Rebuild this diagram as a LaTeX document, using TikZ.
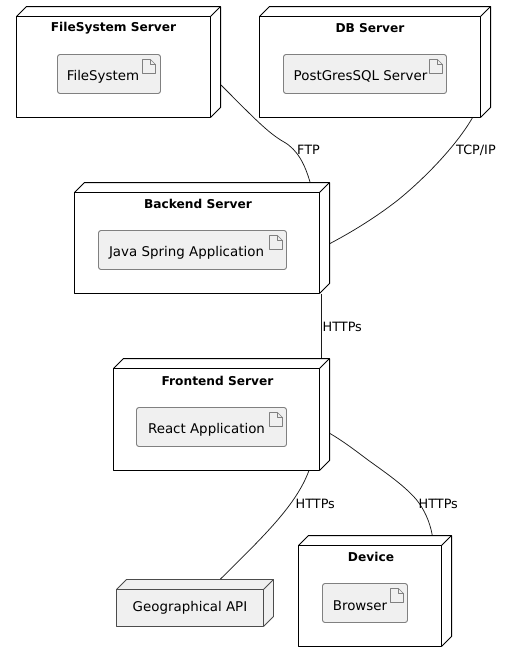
\documentclass[tikz,border=0pt]{standalone}
\usepackage{fontspec}
\setmainfont{DejaVu Sans}
\usetikzlibrary{calc}
\definecolor{boxfill}{HTML}{F0F0F0}
\definecolor{artline}{HTML}{808080}
\definecolor{wireline}{HTML}{1C1C1C}
\tikzset{
  x=1pt,y=-1pt,
  serverbox/.style={draw=black,line width=1pt,fill=white,inner sep=0pt,line join=round},
  apibox/.style={draw=black!70,line width=.9pt,fill=boxfill,inner sep=0pt,line join=round,font=\fontsize{13.4}{16}\selectfont},
  depth/.style={draw=black,line width=1pt,line join=round},
  apidepth/.style={draw=black!70,line width=.9pt,line join=round,fill=boxfill},
  artifactbox/.style={draw=artline,line width=.9pt,fill=boxfill,rounded corners=2.5pt,inner sep=0pt},
  artifacttext/.style={inner sep=0pt,font=\fontsize{13.4}{16}\selectfont},
  fileicon/.style={draw=artline,line width=.7pt,fill=boxfill,line join=round},
  titletext/.style={font=\bfseries\fontsize{12.2}{15}\selectfont,inner sep=0pt},
  wire/.style={draw=wireline,line width=.75pt},
  wirelabel/.style={font=\fontsize{12.8}{15}\selectfont,inner sep=0pt,anchor=west},
}
\newcommand{\solid}[5]{%
  \fill[#5,draw=none] (#1,#2) -- (#1+10,#2-10) -- (#3+10,#2-10) -- (#3+10,#4-10) -- (#3,#4) -- cycle;
  \draw[#5,fill=none] (#1,#2) -- (#1+10,#2-10) -- (#3+10,#2-10) -- (#3+10,#4-10) -- (#3,#4);
  \draw[#5,fill=none] (#3,#2) -- (#3+10,#2-10);
}
\newcommand{\sheet}[2]{% top-right corner of the icon
  \draw[fileicon] (#1-13,#2) -- (#1-5,#2) -- (#1,#2+5) -- (#1,#2+14) -- (#1-13,#2+14) -- cycle;
  \draw[fileicon,fill=none] (#1-5,#2) -- (#1-5,#2+5) -- (#1,#2+5);
}
\begin{document}
\begin{tikzpicture}
\useasboundingbox (0,0) rectangle (506,662);
\fill[white] (0,0) rectangle (506,662);

% FileSystem Server
\solid{16.5}{16.5}{210.5}{117.5}{depth,fill=white}
\node[serverbox,minimum width=194pt,minimum height=101pt] (fs) at (113.5,67) {};
\node[titletext] (fstitle) at (113.5,28) {FileSystem Server};
\node[artifactbox,minimum width=103pt,minimum height=39pt] (fsart) at (109,74) {};
\node[artifacttext] (fstext) at (103,76.5) {FileSystem};
\sheet{155.5}{59.5}

% DB Server
\solid{259.5}{16.5}{480.5}{117.5}{depth,fill=white}
\node[serverbox,minimum width=221pt,minimum height=101pt] (db) at (370,67) {};
\node[titletext] (dbtitle) at (370,28) {DB Server};
\node[artifactbox,minimum width=163pt,minimum height=39pt] (dbart) at (365,74) {};
\node[artifacttext] (dbtext) at (360.5,76.5) {PostGresSQL Server};
\sheet{442.5}{59.5}

% Backend Server
\solid{74.5}{192.5}{319.5}{293.5}{depth,fill=white}
\node[serverbox,minimum width=245pt,minimum height=101pt] (be) at (197,243) {};
\node[titletext] (betitle) at (198,204) {Backend Server};
\node[artifactbox,minimum width=188pt,minimum height=39pt] (beart) at (192.5,250) {};
\node[artifacttext] (betext) at (186.5,252.5) {Java Spring Application};
\sheet{282.5}{235.5}

% Frontend Server
\solid{113.5}{368.5}{319.5}{470.5}{depth,fill=white}
\node[serverbox,minimum width=206pt,minimum height=102pt] (fe) at (216.5,419.5) {};
\node[titletext] (fetitle) at (217.5,381) {Frontend Server};
\node[artifactbox,minimum width=150pt,minimum height=39pt] (feart) at (211.5,427) {};
\node[artifacttext] (fetext) at (206.5,429.5) {React Application};
\sheet{282.5}{412.5}

% Geographical API
\solid{116.5}{589.5}{263.5}{626.5}{apidepth}
\node[apibox,minimum width=147pt,minimum height=37pt] (geo) at (190,608) {Geographical API};

% Device
\solid{298.5}{545.5}{441.5}{646.5}{depth,fill=white}
\node[serverbox,minimum width=143pt,minimum height=101pt] (dev) at (370,596) {};
\node[titletext] (devtitle) at (371,557) {Device};
\node[artifactbox,minimum width=85pt,minimum height=39pt] (devart) at (365,603) {};
\node[artifacttext] (devtext) at (360,605.5) {Browser};
\sheet{403.5}{588.5}

% connectors
\draw[wire] ([shift={(10,69)}]fs.north east) .. controls (253,117) and (268,133) .. (284,142)
  .. controls (298,150) and (305,165) .. ([shift={(-10,-10)}]be.north east);
\draw[wire] ([shift={(-8.7,0)}]db.south east) .. controls (456,146) and (425,178) .. (398,200)
  .. controls (375,218) and (350,233) .. ([shift={(10,51.5)}]be.north east);
\draw[wire] ([shift={(1.8,0)}]be.south east) -- ([shift={(1.8,-10)}]fe.north east);
\draw[wire] ([shift={(-11.2,0)}]fe.south east) .. controls (296,505) and (265,535) .. ([shift={(-43.5,-10)}]geo.north east);
\draw[wire] ([shift={(10,65.5)}]fe.north east) .. controls (343,441) and (356,451) .. (368,460)
  .. controls (386,473) and (405,486) .. (416.7,500)
  .. controls (424,509) and (430,522) .. ([shift={(-9.8,-10)}]dev.north east);

% labels
\node[wirelabel] (lftp) at (297,150) {FTP};
\node[wirelabel] (ltcp) at (456,150) {TCP/IP};
\node[wirelabel] (lhttp1) at (322.5,327) {HTTPs};
\node[wirelabel] (lhttp2) at (295.5,503.5) {HTTPs};
\node[wirelabel] (lhttp3) at (418.5,503.5) {HTTPs};
\end{tikzpicture}
\end{document}
